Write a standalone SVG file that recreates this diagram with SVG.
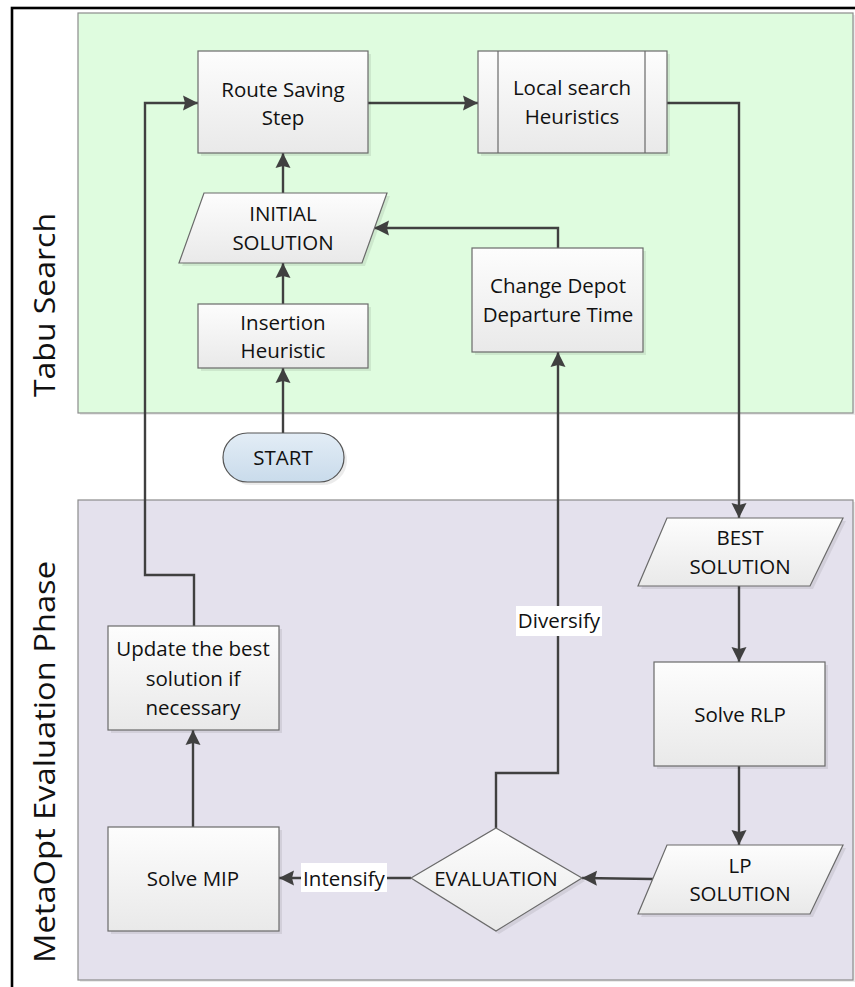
<svg xmlns="http://www.w3.org/2000/svg" width="855" height="987" viewBox="0 0 855 987">
<defs>
<linearGradient id="gBox" x1="0" y1="0" x2="0" y2="1"><stop offset="0" stop-color="#fdfdfd"/><stop offset="1" stop-color="#e9e9e9"/></linearGradient>
<linearGradient id="gStart" x1="0" y1="0" x2="0" y2="1"><stop offset="0" stop-color="#e3edf6"/><stop offset="1" stop-color="#c9dbeb"/></linearGradient>
<marker id="arr" markerUnits="userSpaceOnUse" markerWidth="16" markerHeight="16" refX="15" refY="8" orient="auto"><path d="M0,0.5 L15,8 L0,15.5 L2,8 z" fill="#404040"/></marker>
<style>
.lane{stroke:#8c8c8c;stroke-width:1.2}
.shadow{fill:#000;opacity:0.08}
.box{fill:url(#gBox);stroke:#6a6a6a;stroke-width:1.2}
.t{font-family:"Open Sans","Noto Sans",sans-serif;font-size:20.5px;fill:#111;text-anchor:middle}
.lbl{font-family:"Open Sans","Noto Sans",sans-serif;font-size:30px;fill:#111;text-anchor:middle}
.c{fill:none;stroke:#404040;stroke-width:2.4}
</style>
</defs>
<rect x="0" y="0" width="855" height="987" fill="#fff"/>
<rect x="12" y="8" width="860" height="995" fill="none" stroke="#000" stroke-width="2.6"/>
<g id="lane-tabu">
<rect x="80" y="15" width="775" height="400" class="shadow"/>
<rect x="78" y="13" width="775" height="400" fill="#dffcdf" class="lane"/>
<text class="lbl" transform="translate(55,305) rotate(-90)" textLength="184" lengthAdjust="spacingAndGlyphs">Tabu Search</text>
</g>
<g id="lane-meta">
<rect x="80" y="502" width="775" height="480" class="shadow"/>
<rect x="78" y="500" width="775" height="480" fill="#e4e1ed" class="lane"/>
<text class="lbl" transform="translate(55,762) rotate(-90)" textLength="402" lengthAdjust="spacingAndGlyphs">MetaOpt Evaluation Phase</text>
</g>
<g id="connectors">
<path class="c" d="M368,103 H478" marker-end="url(#arr)"/>
<path class="c" d="M667,103 H739 V518" marker-end="url(#arr)"/>
<path class="c" d="M283,193 V153" marker-end="url(#arr)"/>
<path class="c" d="M283,304 V263" marker-end="url(#arr)"/>
<path class="c" d="M283,433 V368" marker-end="url(#arr)"/>
<path class="c" d="M558,248 V228 H374" marker-end="url(#arr)"/>
<path class="c" d="M739,586 V662" marker-end="url(#arr)"/>
<path class="c" d="M739,766 V845" marker-end="url(#arr)"/>
<path class="c" d="M653,879 L582,878" marker-end="url(#arr)"/>
<path class="c" d="M411,878 H279" marker-end="url(#arr)"/>
<path class="c" d="M193,827 V730" marker-end="url(#arr)"/>
<path class="c" d="M194,626 V575 H145 V103 H198" marker-end="url(#arr)"/>
<path class="c" d="M496,828 V773 H558 V352" marker-end="url(#arr)"/>
<rect x="516" y="606" width="86" height="30" fill="#fff"/>
<text class="t" x="559" y="628">Diversify</text>
<rect x="301" y="863" width="86" height="29" fill="#fff"/>
<text class="t" x="344" y="886">Intensify</text>
</g>
<g id="route-saving">
<rect x="201" y="54" width="170" height="102" class="shadow"/>
<rect x="198" y="51" width="170" height="102" class="box"/>
<text class="t" x="283" y="97">Route Saving</text>
<text class="t" x="283" y="125">Step</text>
</g>
<g id="local-search">
<rect x="481" y="54" width="189" height="102" class="shadow"/>
<rect x="478" y="51" width="189" height="102" class="box"/>
<path d="M498,51 V153 M645,51 V153" stroke="#6a6a6a" stroke-width="1.2"/>
<text class="t" x="572" y="95">Local search</text>
<text class="t" x="572" y="124">Heuristics</text>
</g>
<g id="initial-solution">
<path d="M207,196 H390 L365,266 H182 Z" class="shadow"/>
<path d="M204,193 H387 L362,263 H179 Z" class="box"/>
<text class="t" x="283" y="221">INITIAL</text>
<text class="t" x="283" y="250">SOLUTION</text>
</g>
<g id="insertion-heuristic">
<rect x="201" y="307" width="170" height="64" class="shadow"/>
<rect x="198" y="304" width="170" height="64" class="box"/>
<text class="t" x="283" y="330">Insertion</text>
<text class="t" x="283" y="358">Heuristic</text>
</g>
<g id="change-depot">
<rect x="475" y="251" width="171" height="104" class="shadow"/>
<rect x="472" y="248" width="171" height="104" class="box"/>
<text class="t" x="558" y="293">Change Depot</text>
<text class="t" x="558" y="322">Departure Time</text>
</g>
<g id="start">
<rect x="226" y="436" width="121" height="49" rx="24.5" class="shadow"/>
<rect x="223" y="433" width="121" height="49" rx="24.5" fill="url(#gStart)" stroke="#555" stroke-width="1.2"/>
<text class="t" x="283" y="465">START</text>
</g>
<g id="best-solution">
<path d="M670,521 H846 L813,589 H641 Z" class="shadow"/>
<path d="M667,518 H843 L810,586 H638 Z" class="box"/>
<text class="t" x="740" y="545">BEST</text>
<text class="t" x="740" y="574">SOLUTION</text>
</g>
<g id="solve-rlp">
<rect x="657" y="665" width="171" height="104" class="shadow"/>
<rect x="654" y="662" width="171" height="104" class="box"/>
<text class="t" x="740" y="722">Solve RLP</text>
</g>
<g id="lp-solution">
<path d="M670,848 H846 L813,917 H641 Z" class="shadow"/>
<path d="M667,845 H843 L810,914 H638 Z" class="box"/>
<text class="t" x="740" y="873">LP</text>
<text class="t" x="740" y="901">SOLUTION</text>
</g>
<g id="evaluation">
<path d="M499,831 L585,881 L499,934 L414,881 Z" class="shadow"/>
<path d="M496,828 L582,878 L496,931 L411,878 Z" class="box"/>
<text class="t" x="496" y="886">EVALUATION</text>
</g>
<g id="solve-mip">
<rect x="111" y="830" width="171" height="104" class="shadow"/>
<rect x="108" y="827" width="171" height="104" class="box"/>
<text class="t" x="193" y="886">Solve MIP</text>
</g>
<g id="update-best">
<rect x="111" y="629" width="171" height="104" class="shadow"/>
<rect x="108" y="626" width="171" height="104" class="box"/>
<text class="t" x="193" y="656">Update the best</text>
<text class="t" x="193" y="686">solution if</text>
<text class="t" x="193" y="715">necessary</text>
</g>
</svg>
